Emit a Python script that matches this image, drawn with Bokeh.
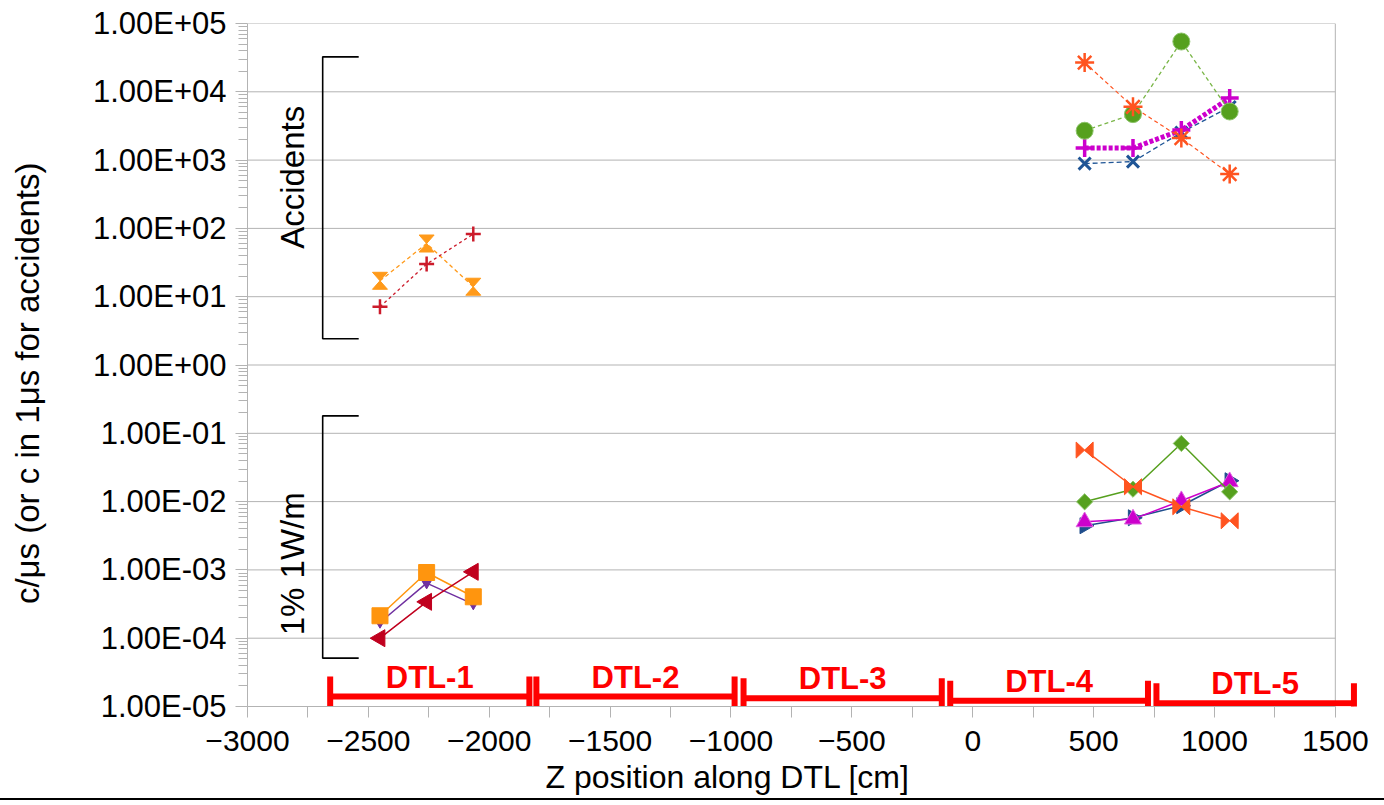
import math
from bokeh.plotting import figure
from bokeh.layouts import column
from bokeh.models import Range1d, FixedTicker, Title, Div
from bokeh.core.properties import value
from bokeh.embed import file_html
from bokeh.resources import INLINE

# ---------------- data ----------------
x_right = [463, 663, 863, 1063]          # cm, DTL-4/5 monitor positions
x_left = [-2452, -2259, -2066]           # cm, DTL-1 monitor positions

# accidents (c in 1 us)
acc_blue_x = [890, 950, 2540, 6000]
acc_magenta_plus = [1500, 1500, 2750, 8100]
acc_green_circle = [2690, 4710, 54500, 5150]
acc_orange_star = [26800, 6030, 2100, 624]
acc_left_hourglass = [17.1, 60.1, 14.0]
acc_left_plus = [7.1, 30.0, 82.6]

# 1% of 1 W/m (c/us)
pow_blue_tri = [0.00443, 0.0058, 0.0087, 0.0202]
pow_magenta_tri = [0.00506, 0.00554, 0.0103, 0.0195]
pow_green_diamond = [0.00993, 0.0152, 0.071, 0.0139]
pow_orange_bowtie = [0.0568, 0.0165, 0.0084, 0.00524]
pow_left_purple = [1.7e-4, 6.4e-4, 3.16e-4]
pow_left_square = [2.13e-4, 9.16e-4, 4.04e-4]
pow_left_red_tri = [1.0e-4, 3.41e-4, 9.37e-4]

# DTL tanks
dtl_names = ["DTL-1", "DTL-2", "DTL-3", "DTL-4", "DTL-5"]
dtl_start = [-2658, -1805, -948, -93, 760]
dtl_end = [-1834, -985, -128, 725, 1577]
dtl_level = [1.40e-5, 1.40e-5, 1.32e-5, 1.21e-5, 1.12e-5]

# brackets
bracket_names = ["Accidents", "1% 1W/m"]
bracket_top = [3.25e4, 0.18]
bracket_bottom = [2.42, 5.1e-5]
bracket_label_y = [560, 1.23e-3]
bracket_x = -2689
bracket_hook_x = -2540
bracket_label_x = -2815

# axes
y_tick_values = [1e-5, 1e-4, 1e-3, 1e-2, 1e-1, 1e0, 1e1, 1e2, 1e3, 1e4, 1e5]
y_tick_labels = ["1.00E-05", "1.00E-04", "1.00E-03", "1.00E-02", "1.00E-01",
                 "1.00E+00", "1.00E+01", "1.00E+02", "1.00E+03", "1.00E+04", "1.00E+05"]
x_tick_values = [-3000, -2500, -2000, -1500, -1000, -500, 0, 500, 1000, 1500]
x_minor_values = [-2750, -2250, -1750, -1250, -750, -250, 250, 750, 1250]
x_title = "Z position along DTL [cm]"
y_title = "c/\u03bcs (or c in 1\u03bcs for accidents)"

# ---------------- geometry ----------------
W, H, H_PLOT = 1384, 805, 798
FRAME_L, FRAME_T, FRAME_W, FRAME_H = 247, 23, 1112, 683
X_MIN, X_MAX, X_AXIS_END = -3000, 1600, 1500
Y_MIN, Y_MAX = 1e-5, 1e5
px_per_x = FRAME_W / (X_MAX - X_MIN)
px_per_dec = FRAME_H / (math.log10(Y_MAX) - math.log10(Y_MIN))


def dx(px):
    return px / px_per_x


def ymul(px):
    # multiplicative factor corresponding to px pixels upward
    return 10 ** (px / px_per_dec)


GREY = "#b3b3b3"
FONT = "Liberation Sans"

p = figure(width=W, height=H_PLOT, x_range=Range1d(X_MIN, X_MAX), y_range=Range1d(Y_MIN, Y_MAX),
           y_axis_type="log", output_backend="svg", toolbar_location=None,
           min_border_left=FRAME_L, min_border_right=W - FRAME_L - FRAME_W,
           min_border_top=FRAME_T, min_border_bottom=H_PLOT - FRAME_T - FRAME_H,
           outline_line_color=None, background_fill_color="white", border_fill_color="white")
p.grid.visible = False

xa = p.xaxis[0]
xa.ticker = FixedTicker(ticks=x_tick_values, minor_ticks=x_minor_values)
xa.bounds = (X_MIN, X_AXIS_END)
ya = p.yaxis[0]
ya.ticker = FixedTicker(ticks=y_tick_values,
                        minor_ticks=[k * 10.0 ** e for e in range(-5, 5) for k in range(2, 10)])
ya.major_label_overrides = {v: l for v, l in zip(y_tick_values, y_tick_labels)}
for ax in (xa, ya):
    ax.axis_line_color = GREY
    ax.major_tick_line_color = GREY
    ax.minor_tick_line_color = GREY
    ax.major_tick_in = 0
    ax.minor_tick_in = 0
    ax.major_label_text_font = FONT
    ax.major_label_text_color = "black"
xa.major_label_text_font_size = "30px"
ya.major_label_text_font_size = "31px"
xa.major_label_standoff = 13
ya.major_label_standoff = 9
xa.major_tick_out = 11
xa.minor_tick_out = 11
ya.major_tick_out = 12
ya.minor_tick_out = 9

# y title: trailing no-break spaces move the visible text slightly below the frame centre,
# as in the reference
ya.axis_label = y_title + "\u00a0" * 4
ya.axis_label_text_font = FONT
ya.axis_label_text_font_size = "33px"
ya.axis_label_text_font_style = "normal"
ya.axis_label_text_color = "black"
ya.axis_label_standoff = 44

# x title as a side-panel title (placed off-centre as in the reference)
p.add_layout(Title(text=x_title, align="left", offset=298, text_font=FONT, text_font_size="32px",
                   text_font_style="normal", text_color="black", standoff=6), "below")

# gridlines & right border
n = len(y_tick_values)
p.segment(x0=[X_MIN] * n, x1=[X_AXIS_END] * n, y0=y_tick_values, y1=y_tick_values,
          line_color=GREY, line_width=1)
p.segment(x0=[X_AXIS_END], x1=[X_AXIS_END], y0=[Y_MIN], y1=[Y_MAX], line_color=GREY, line_width=1)

# brackets
p.multi_line(xs=[[bracket_hook_x, bracket_x, bracket_x, bracket_hook_x] for _ in bracket_names],
             ys=[[t, t, b, b] for t, b in zip(bracket_top, bracket_bottom)],
             line_color="black", line_width=1.6)
p.text(x=[bracket_label_x] * 2, y=bracket_label_y, text=bracket_names, angle=math.pi / 2,
       text_align="center", text_baseline="middle", text_font=value(FONT),
       text_font_size="33px", text_color="black")


def hourglass(xs, ys, w, h):
    pxs, pys = [], []
    for x, y in zip(xs, ys):
        a, b = dx(w / 2), ymul(h / 2)
        pxs.append([x - a, x + a, x, x + a, x - a, x])
        pys.append([y * b, y * b, y, y / b, y / b, y])
    return pxs, pys


def bowtie(xs, ys, w, h):
    pxs, pys = [], []
    for x, y in zip(xs, ys):
        a, b = dx(w / 2), ymul(h / 2)
        pxs.append([x - a, x, x + a, x + a, x, x - a])
        pys.append([y * b, y, y * b, y / b, y, y / b])
    return pxs, pys


# ---- accidents, right ----
c = "#1f5596"
p.line(x_right, acc_blue_x, line_color=c, line_width=1.3, line_dash="5 3")
p.scatter(x_right, acc_blue_x, marker="x", size=17, line_color=c, line_width=3)
c = "#cc00cc"
p.line(x_right, acc_magenta_plus, line_color=c, line_width=5, line_dash="4 2")
p.scatter(x_right, acc_magenta_plus, marker="cross", size=18, line_color=c, line_width=3.5)
c = "#56a01e"
p.line(x_right, acc_green_circle, line_color="#7ab648", line_width=1.3, line_dash="4 3")
p.scatter(x_right, acc_green_circle, marker="circle", size=17, fill_color=c, line_color="#8cc46a", line_width=1)
c = "#ff5420"
p.line(x_right, acc_orange_star, line_color=c, line_width=1.2, line_dash="4 3")
p.scatter(x_right, acc_orange_star, marker="asterisk", size=19, line_color=c, line_width=2.5)

# ---- accidents, left ----
c = "#ff9a1a"
p.line(x_left, acc_left_hourglass, line_color=c, line_width=1.3, line_dash="4 3")
hx, hy = hourglass(x_left, acc_left_hourglass, 15, 17)
p.patches(hx, hy, fill_color=c, line_color=c, line_width=1)
c = "#cc1b2b"
p.line(x_left, acc_left_plus, line_color=c, line_width=1.3, line_dash="3 3")
p.scatter(x_left, acc_left_plus, marker="cross", size=15, line_color=c, line_width=2.5)

# ---- 1% 1W/m, right ----
c = "#1f4e8c"
p.line(x_right, pow_blue_tri, line_color=c, line_width=1.5)
p.scatter(x_right, pow_blue_tri, marker="triangle", angle=-math.pi / 2, size=16, fill_color=c, line_color=c)
c = "#cc00cc"
p.line(x_right, pow_magenta_tri, line_color=c, line_width=1.5)
p.scatter(x_right, pow_magenta_tri, marker="triangle", size=17, fill_color=c, line_color="#e060e0")
c = "#56a01e"
p.line(x_right, pow_green_diamond, line_color=c, line_width=1.5)
p.scatter(x_right, pow_green_diamond, marker="square", angle=math.pi / 4, size=11.5, fill_color=c, line_color="#8cc46a")
c = "#ff5420"
p.line(x_right, pow_orange_bowtie, line_color=c, line_width=1.5)
bx, by = bowtie(x_right, pow_orange_bowtie, 17, 16)
p.patches(bx, by, fill_color=c, line_color=c, line_width=1)

# ---- 1% 1W/m, left ----
c = "#7030a0"
p.line(x_left, pow_left_purple, line_color=c, line_width=1.5)
p.scatter(x_left, pow_left_purple, marker="inverted_triangle", size=10, fill_color=c, line_color=c)
c = "#ff950e"
p.line(x_left, pow_left_square, line_color=c, line_width=1.5)
p.scatter(x_left, pow_left_square, marker="square", size=16, fill_color=c, line_color=c)
c = "#c0001e"
p.line(x_left, pow_left_red_tri, line_color=c, line_width=1.5)
p.scatter(x_left, pow_left_red_tri, marker="triangle", angle=math.pi / 2, size=17, fill_color=c, line_color=c)

# ---- DTL tanks ----
RED = "#ff0000"
cap = ymul(20)
p.segment(x0=dtl_start, x1=dtl_end, y0=dtl_level, y1=dtl_level, line_color=RED, line_width=6)
p.segment(x0=dtl_start + dtl_end, x1=dtl_start + dtl_end,
          y0=[v / cap for v in dtl_level * 2], y1=[v * cap for v in dtl_level * 2],
          line_color=RED, line_width=6)
p.text(x=[(a + b) / 2 for a, b in zip(dtl_start, dtl_end)], y=dtl_level, text=dtl_names,
       text_align="center", text_baseline="bottom", y_offset=-2,
       text_font=value(FONT), text_font_style="bold", text_font_size="31px", text_color=RED)

# bottom rule under the chart
rule = Div(text="", width=W, height=H - H_PLOT, margin=0,
           styles={"border-top": "2px solid black", "box-sizing": "border-box"})

layout = column(p, rule, spacing=0)
open("out.html", "w").write(file_html(layout, INLINE))
